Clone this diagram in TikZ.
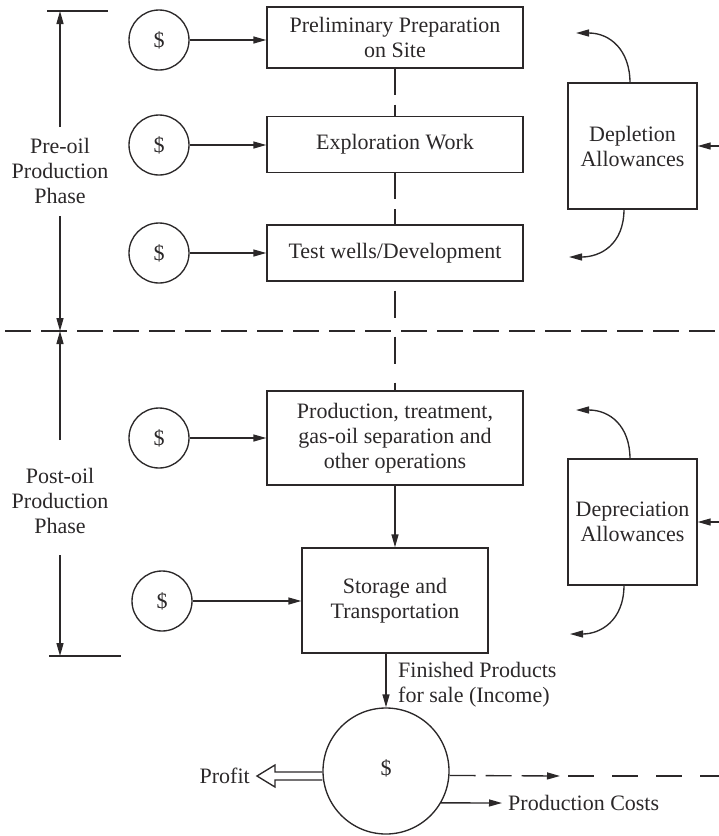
\documentclass[tikz,border=0pt]{standalone}
\usepackage{fontspec}
\setmainfont{Liberation Serif}
\usetikzlibrary{arrows.meta}
\definecolor{ink}{HTML}{2B2829}

\begin{document}
\begin{tikzpicture}[x=1pt,y=-1pt,
  font=\fontsize{22}{25}\selectfont,
  line/.style={draw=ink, line width=1.35pt},
  tip/.style={-{Triangle[length=13pt,width=7pt]}},
  arr/.style={line, tip},
  dashline/.style={line, dash pattern=on 26pt off 10pt},
  box/.style={line, text=ink, align=center, inner sep=0pt},
  coin/.style={line, circle, text=ink, inner sep=0pt, minimum size=60pt},
  lbl/.style={text=ink, align=center, inner sep=0pt}]
\useasboundingbox (0,0) rectangle (719,836);

% process boxes
\node[box, minimum width=256pt, minimum height=61pt] (b1) at (395,37.5) {Preliminary Preparation\\on Site};
\node[box, minimum width=256pt, minimum height=56pt] (b2) at (395,144.5) {Exploration Work};
\node[box, minimum width=256pt, minimum height=56pt] (b3) at (395,253) {Test wells/Development};
\node[box, minimum width=256pt, minimum height=94pt] (b4) at (395,438) {Production, treatment,\\gas-oil separation and\\other operations};
\node[box, minimum width=186pt, minimum height=105pt] (b5) at (395,600.5) {Storage and\\Transportation};

% allowance boxes
\node[box, minimum width=129pt, minimum height=126pt] (dep) at (632.5,146) {Depletion\\Allowances};
\node[box, minimum width=129pt, minimum height=126pt] (dpr) at (632.5,522) {Depreciation\\Allowances};

% money inputs
\node[coin] (c1) at (159,40) {\$};
\node[coin] (c2) at (159,145) {\$};
\node[coin] (c3) at (159,253) {\$};
\node[coin] (c4) at (159,438) {\$};
\node[coin] (c5) at (162,601) {\$};
\node[coin, minimum size=126pt] (big) at (386,771) {};
\node[lbl] (bigd) at (386,768) {\$};

\foreach \c/\b in {c1/b1, c2/b2, c3/b3, c4/b4, c5/b5}
  \draw[arr] (\c.east) -- (\c.east -| \b.west);

% flow between stages
\draw[dashline] (b1.south) -- (b2.north);
\draw[dashline] (b2.south) -- (b3.north);
\draw[line, dash pattern=on 0pt off 9pt on 27pt off 10pt] (b3.south) -- (b4.north);
\draw[arr] (b4.south) -- (b5.north);
\draw[arr] (big.north |- b5.south) -- (big.north);
\node[lbl, align=left, anchor=west] (fin) at (398,685) {Finished Products\\for sale (Income)};

% phase divider
\coordinate (dl) at (5,331);
\coordinate (dr) at (719,331);
\draw[dashline] (dl) -- (dr);

% phase dimension lines
\coordinate (t1) at (47,11);
\coordinate (t2) at (108,11);
\coordinate (t3) at (49,656);
\coordinate (t4) at (121,656);
\draw[line] (t1) -- (t2);
\draw[line] (t3) -- (t4);
\node[lbl] (pre) at (60,171) {Pre-oil\\Production\\Phase};
\node[lbl] (post) at (60,501) {Post-oil\\Production\\Phase};
\coordinate (preTop) at (60,127);
\coordinate (preBot) at (60,216);
\coordinate (postTop) at (60,440);
\coordinate (postBot) at (60,555);
\coordinate (mid) at (60,331);
\draw[arr] (preTop) -- (60,11);
\draw[arr] (preBot) -- (mid);
\draw[arr] (postTop) -- (mid);
\draw[arr] (postBot) -- (60,656);

% allowance feeds and returns
\coordinate (depIn) at (719,146);
\coordinate (dprIn) at (719,522);
\draw[arr] (depIn) -- (dep.east);
\draw[arr] (dprIn) -- (dpr.east);
\coordinate (depA) at (576,33);
\coordinate (depB) at (569,257);
\coordinate (dprA) at (576,410);
\coordinate (dprB) at (570,634);
\draw[arr] (630,83) .. controls (630,50) and (610,33) .. (depA);
\draw[arr] (624,209) .. controls (624,245) and (600,257) .. (depB);
\draw[arr] (630,459) .. controls (630,426) and (610,410) .. (dprA);
\draw[arr] (624,585) .. controls (624,621) and (600,634) .. (dprB);

% distribution of income
\node[lbl, anchor=east] (profit) at (250,776) {Profit};
\draw[line, line join=miter] (big.west |- 0,772) -- (275,772) -- (275,765) -- (257,776)
  -- (275,787) -- (275,780) -- (big.west |- 0,780);
\coordinate (tipM) at (560,776);
\coordinate (far) at (719,776);
\draw[dashline, tip] (big.-4) -- (tipM);
\draw[line, dash pattern=on 0pt off 8pt on 26pt off 10pt] (tipM) -- (far);
\node[lbl, anchor=west] (cost) at (508,803) {Production Costs};
\draw[arr] (big.-30) -- (cost.west -| 502,0);
\end{tikzpicture}
\end{document}
